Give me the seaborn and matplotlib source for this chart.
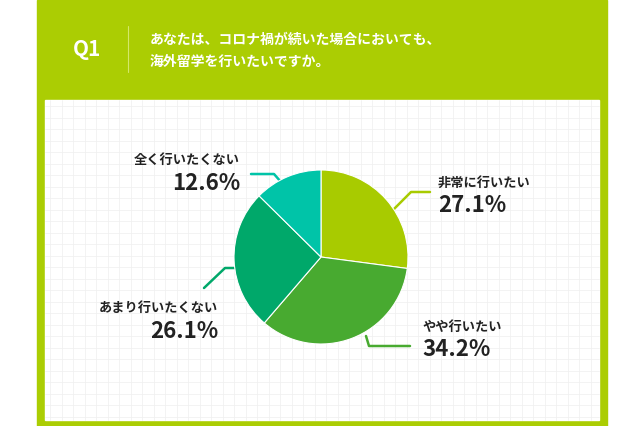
import matplotlib
matplotlib.use("Agg")
import matplotlib.pyplot as plt
import seaborn as sns
import numpy as np

sns.set_theme(style="white")
plt.rcParams["font.family"] = ["Noto Sans CJK JP", "DejaVu Sans"]

categories = ["非常に行いたい", "やや行いたい", "あまり行いたくない", "全く行いたくない"]
values = [27.1, 34.2, 26.1, 12.6]
colors = ["#a8cb00", "#48aa30", "#00a86a", "#00c4a8"]
title_lines = ["あなたは、コロナ禍が続いた場合においても、", "海外留学を行いたいですか。"]

W, H = 640, 426
fig = plt.figure(figsize=(6.4, 4.26), dpi=100)
bg = fig.add_axes([0, 0, 1, 1])
bg.set_xlim(0, W); bg.set_ylim(H, 0); bg.axis("off")
green = "#abcd03"
bg.add_patch(plt.Rectangle((37, 0), 570, H, color=green, zorder=0))
bg.add_patch(plt.Rectangle((45, 100), 554, 320, color="white", zorder=1))
for gx in np.arange(50, 599, 11.5):
    bg.plot([gx, gx], [100, 420], color="#efefef", lw=0.5, zorder=2)
for gy in np.arange(106, 420, 11.5):
    bg.plot([45, 599], [gy, gy], color="#efefef", lw=0.5, zorder=2)
bg.plot([128, 128], [26, 72], color="#d4e86a", lw=0.8, zorder=3)
bg.text(87, 50, "Q1", color="white", fontsize=15, fontweight="bold", ha="center", va="center", zorder=3)
bg.text(150, 40, title_lines[0], color="white", fontsize=10, fontweight="bold", va="center", zorder=3)
bg.text(150, 62, title_lines[1], color="white", fontsize=10, fontweight="bold", va="center", zorder=3)

# pie
cx, cy, r = 321, 257, 87
pa = fig.add_axes([(cx - r) / W, 1 - (cy + r) / H, 2 * r / W, 2 * r / H])
pa.pie(values, colors=colors, startangle=90, counterclock=False, radius=1,
       wedgeprops=dict(edgecolor="white", linewidth=0.8))
pa.set_xlim(-1.0, 1.0); pa.set_ylim(-1.0, 1.0)
pa.set_aspect("equal"); pa.axis("off")

# leader lines & labels
leaders = [
    [(393, 210), (411, 192), (430, 192)],
    [(366, 336), (369, 346), (410, 346)],
    [(235, 268), (225, 268), (204, 288)],
    [(251, 174), (274, 174), (281, 182)],
]
labels = [
    (438, 183, "left"),
    (422, 327, "left"),
    (218, 308, "right"),
    (240, 160, "right"),
]
for pts, col, (lx, ly, ha), cat, v in zip(leaders, colors, labels, categories, values):
    xs, ys = zip(*pts)
    bg.plot(xs, ys, color=col, lw=1.8, zorder=4)
    bg.text(lx, ly, cat, fontsize=9.5, fontweight="bold", color="#222222", ha=ha, va="center", zorder=5)
    bg.text(lx, ly + 23, f"{v:.1f}%", fontsize=16, fontweight="bold", color="#222222", ha=ha, va="center", zorder=5)

fig.savefig("out.png", dpi=100)
